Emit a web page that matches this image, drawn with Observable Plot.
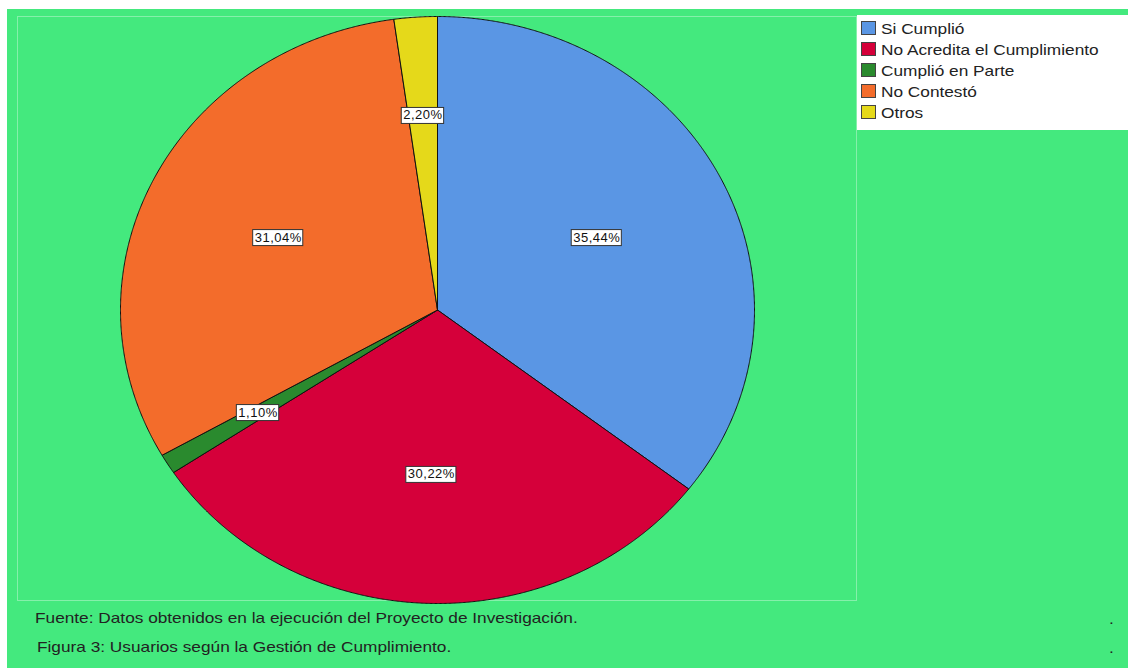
<!DOCTYPE html>
<html><head><meta charset="utf-8">
<script src="https://cdn.jsdelivr.net/npm/d3@7"></script>
<script src="https://cdn.jsdelivr.net/npm/@observablehq/plot@0.6"></script>
<style>
body{margin:0;background:#fff;}
#wrap{position:relative;width:1128px;height:668px;overflow:hidden;background:#fff;font-family:"Liberation Sans",Arial,sans-serif;}
#bg{position:absolute;left:7px;top:9px;right:0;bottom:0;background:#44E97E;}
#frame{position:absolute;left:17px;top:16px;width:840px;height:585px;border:1px solid rgba(255,255,255,0.35);box-sizing:border-box;}
#chart{position:absolute;left:0;top:0;}
#legend{position:absolute;left:857px;top:15px;width:271px;height:115px;background:#fff;}
.row{position:absolute;left:4px;height:16px;display:flex;align-items:center;font-size:15px;color:#222;white-space:nowrap;}
.sw{width:15px;height:14px;border:1px solid #444;margin-right:5px;box-sizing:border-box;flex:none;}
.lt{display:inline-block;transform:scaleX(1.15);transform-origin:0 50%;}
.foot{position:absolute;font-size:15px;color:#222;white-space:nowrap;transform:scaleX(1.15);transform-origin:0 50%;}
</style></head>
<body>
<div id="wrap">
  <div id="bg"></div>
  <div id="frame"></div>
  <div id="chart"></div>
  <div id="legend"></div>
  <div class="foot" style="left:35px;top:609px;">Fuente: Datos obtenidos en la ejecución del Proyecto de Investigación.</div>
  <div class="foot" style="left:37px;top:638px;">Figura 3: Usuarios según la Gestión de Cumplimiento.</div>
  <div class="foot" style="left:1109px;top:610px;">.</div>
  <div class="foot" style="left:1109px;top:639px;">.</div>
</div>
<script>
const categories = ["Si Cumplió","No Acredita el Cumplimiento","Cumplió en Parte","No Contestó","Otros"];
const values = [35.44, 30.22, 1.10, 31.04, 2.20];
const colors = ["#5A96E4","#D5003A","#2A8A2E","#F36C2B","#E5D91A"];

const rows = categories.map((c,i)=>({cat:c, value:values[i]}));
const arcs = d3.pie().sort(null).value(d=>d.value)(rows);

const pts = [];
arcs.forEach(a=>{
  const cat = a.data.cat;
  pts.push({cat, x:0, y:0});
  const n = Math.max(2, Math.ceil((a.endAngle-a.startAngle)/0.004));
  for(let k=0;k<=n;k++){
    const t = a.startAngle + (a.endAngle-a.startAngle)*k/n;
    pts.push({cat, x:Math.sin(t), y:Math.cos(t)});
  }
  pts.push({cat, x:0, y:0});
});

const labels = arcs.map(a=>{
  const m = (a.startAngle+a.endAngle)/2;
  const r = a.data.value < 5 ? 0.665 : 0.56;
  return {x:r*Math.sin(m), y:r*Math.cos(m), text:a.data.value.toFixed(2).replace(".",",")+"%"};
});

const plot = Plot.plot({
  width:1128, height:668,
  margin:0,
  style:{background:"transparent", overflow:"visible"},
  x:{domain:[-1,1], range:[120,754], axis:null},
  y:{domain:[-1,1], range:[603,16], axis:null},
  color:{domain:categories, range:colors},
  marks:[
    Plot.line(pts, {x:"x", y:"y", z:"cat", fill:"cat", stroke:"#111", strokeWidth:1, curve:"linear", strokeLinejoin:"round"}),
    Plot.text(labels, {x:"x", y:"y", text:"text", fontSize:13, fill:"#111", fontFamily:"Liberation Sans, Arial, sans-serif"})
  ]
});
document.getElementById("chart").appendChild(plot);

// white boxes behind labels
d3.select(plot).selectAll('g[aria-label="text"] text').each(function(){
  this.setAttribute("letter-spacing","0.5");
  const bb = this.getBBox();
  d3.select(this.parentNode).insert("rect", () => this)
    .attr("x", bb.x-2).attr("y", bb.y).attr("width", bb.width+3).attr("height", bb.height+1)
    .attr("fill","#fff").attr("stroke","#333").attr("stroke-width",1)
    .attr("transform", this.getAttribute("transform"));
});

const leg = d3.select("#legend");
categories.forEach((c,i)=>{
  const r = leg.append("div").attr("class","row").style("top", (5+i*21)+"px");
  r.append("div").attr("class","sw").style("background", colors[i]);
  r.append("span").attr("class","lt").text(c);
});
</script>
</body></html>
